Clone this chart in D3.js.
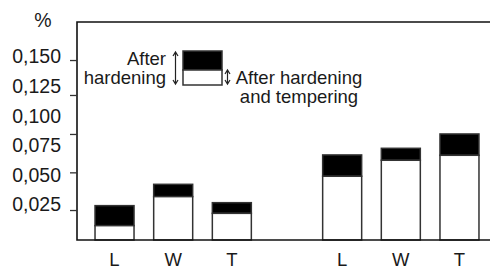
<!DOCTYPE html>
<html>
<head>
<meta charset="utf-8">
<script src="https://cdn.jsdelivr.net/npm/d3@7"></script>
<style>
  body { margin: 0; background: #fff; }
  svg text { font-family: "Liberation Sans", Arial, Helvetica, sans-serif; fill: #1a1a1a; }
</style>
</head>
<body>
<div id="chart"></div>
<script>
// Data
const groups = ['g1', 'g2'];
const steels = ['L', 'W', 'T'];
const afterHardening = [[0.029, 0.047, 0.0315], [0.0718, 0.0774, 0.0895]];
const afterTempering = [[0.0121, 0.0366, 0.0225], [0.0538, 0.0673, 0.0715]];
const yLabels = [0.025, 0.050, 0.075, 0.100, 0.125, 0.150];
const yTickMarks = [0.0253, 0.0571, 0.0895, 0.1224, 0.1519];

const width = 490, height = 269;
const margin = { top: 22, right: 0, bottom: 29, left: 77 };

const svg = d3.select('#chart')
  .append('svg')
  .attr('width', width)
  .attr('height', height);

// Scales
const y = d3.scaleLinear()
  .domain([0, 0.184])
  .range([height - margin.bottom, margin.top]);

const x0 = d3.scaleBand()
  .domain(groups)
  .range([85.2, 488.8])
  .paddingInner(0.227)
  .paddingOuter(0);

const x1 = d3.scaleBand()
  .domain(steels)
  .range([0, x0.bandwidth()])
  .paddingInner(0.335)
  .paddingOuter(0.1675);

// Bars
groups.forEach((g, gi) => {
  const grp = svg.append('g')
    .attr('transform', `translate(${x0(g)},0)`);

  steels.forEach((s, si) => {
    const top = afterHardening[gi][si];
    const mid = afterTempering[gi][si];
    // black part: change during hardening
    grp.append('rect')
      .attr('x', x1(s))
      .attr('y', y(top))
      .attr('width', x1.bandwidth())
      .attr('height', y(mid) - y(top))
      .attr('fill', '#000')
      .attr('stroke', '#333')
      .attr('stroke-width', 1.5);
    // white part: after hardening and tempering
    grp.append('rect')
      .attr('x', x1(s))
      .attr('y', y(mid))
      .attr('width', x1.bandwidth())
      .attr('height', y(0) - y(mid))
      .attr('fill', '#fff')
      .attr('stroke', '#333')
      .attr('stroke-width', 1.5);

    grp.append('text')
      .attr('x', x1(s) + x1.bandwidth() / 2)
      .attr('y', 266)
      .attr('text-anchor', 'middle')
      .style('font-size', '18.5px')
      .text(s);
  });
});

// Frame: left, top and bottom lines
svg.append('path')
  .attr('d', `M${width},${y(0)} H${margin.left} V${margin.top} H${width}`)
  .attr('fill', 'none')
  .attr('stroke', '#111')
  .attr('stroke-width', 1.6);

// Y tick marks (they do not sit on the labels in the original)
svg.append('g')
  .attr('transform', `translate(${margin.left},0)`)
  .call(d3.axisLeft(y).tickValues(yTickMarks).tickSize(7).tickFormat(''))
  .call(g => g.select('.domain').remove())
  .call(g => g.selectAll('line').attr('stroke', '#333').attr('stroke-width', 1.3));

// Y labels
svg.append('g')
  .attr('transform', `translate(${margin.left},-5.7)`)
  .call(d3.axisLeft(y).tickValues(yLabels).tickSize(0).tickPadding(16)
    .tickFormat(d => d3.format('.3f')(d).replace('.', ',')))
  .call(g => g.select('.domain').remove())
  .call(g => g.selectAll('text')
    .attr('fill', '#1a1a1a')
    .style('font-size', '19.5px')
    .style('font-family', '"Liberation Sans", Arial, Helvetica, sans-serif'));

svg.append('text')
  .attr('x', 43)
  .attr('y', 27)
  .attr('text-anchor', 'middle')
  .style('font-size', '19.5px')
  .text('%');

// Legend
const legend = svg.append('g');
legend.append('rect')
  .attr('x', 183).attr('y', 51).attr('width', 39).attr('height', 19)
  .attr('fill', '#000').attr('stroke', '#333').attr('stroke-width', 1.5);
legend.append('rect')
  .attr('x', 183).attr('y', 70).attr('width', 39).attr('height', 15)
  .attr('fill', '#fff').attr('stroke', '#333').attr('stroke-width', 1.5);

const dblArrow = (x, y1, y2) =>
  `M${x},${y1} V${y2} M${x - 2.5},${y1 + 4} L${x},${y1} L${x + 2.5},${y1 + 4}` +
  ` M${x - 2.5},${y2 - 4} L${x},${y2} L${x + 2.5},${y2 - 4}`;

legend.append('path')
  .attr('d', dblArrow(175.5, 52, 84))
  .attr('fill', 'none').attr('stroke', '#222').attr('stroke-width', 1.2);
legend.append('path')
  .attr('d', dblArrow(227.5, 70, 84))
  .attr('fill', 'none').attr('stroke', '#222').attr('stroke-width', 1.2);

legend.append('text')
  .attr('x', 166).attr('y', 65)
  .attr('text-anchor', 'end')
  .style('font-size', '18.5px')
  .text('After');
legend.append('text')
  .attr('x', 166).attr('y', 84)
  .attr('text-anchor', 'end')
  .style('font-size', '18.5px')
  .text('hardening');
legend.append('text')
  .attr('x', 299).attr('y', 83.5)
  .attr('text-anchor', 'middle')
  .style('font-size', '18.5px')
  .text('After hardening');
legend.append('text')
  .attr('x', 299).attr('y', 102.5)
  .attr('text-anchor', 'middle')
  .style('font-size', '18.5px')
  .text('and tempering');
</script>
</body>
</html>
